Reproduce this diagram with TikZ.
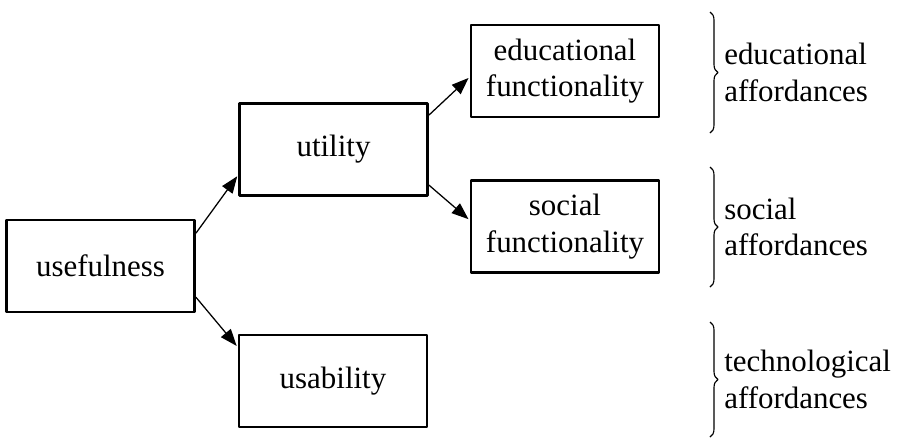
\documentclass[tikz,border=0pt]{standalone}
\usepackage{fontspec}
\setmainfont{Liberation Serif}
\usetikzlibrary{arrows.meta,calc,decorations.pathreplacing}
\begin{document}
\begin{tikzpicture}[x=0.025cm,y=-0.025cm,>={Triangle[length=12pt,width=9pt]},
		font=\fontsize{22}{26}\selectfont, line join=round,
		box/.style={draw,line width=2pt,minimum width=4.7cm,minimum height=2.3cm,align=center,inner sep=0pt},
		link/.style={->,line width=0.9pt,shorten >=1pt},
		curly/.style={decorate,decoration={brace,amplitude=0.2cm},line width=0.8pt},
		aff/.style={anchor=west,align=left,inner sep=0pt}]
				\useasboundingbox (0,0) rectangle (897,437);
				\node[box] (use) at (100.5,266) {usefulness};
				\node[box] (uti) at (333.5,149.5) {utility};
				\node[box] (usa) at (333,381) {usability};
				\node[box] (edu) at (565,71) {educational\\functionality};
				\node[box] (soc) at (565,226.5) {social\\functionality};
				\foreach \a/\b/\s/\t in {use/uti/.82/-.64,use/usa/-.78/.85,uti/edu/.86/-.15,uti/soc/-.89/.16}
				{
					\draw[link] ([yshift=\s cm]\a.east) -- ([yshift=\t cm]\b.west);
				}
				\path (710,12)coordinate(E1) (710,133)coordinate(E2)
				(710,167)coordinate(S1) (710,287)coordinate(S2)
				(710,322)coordinate(T1) (710,437)coordinate(T2);
				\foreach \p/\q/\r in {E/ea/educational,S/sa/social,T/ta/technological}
				{
					\draw[curly] (\p1) -- (\p2);
					\node[aff] (\q) at ($(\p1)!0.5!(\p2)+(14,0)$) {\r\\affordances};
				}
\end{tikzpicture}
\end{document}
